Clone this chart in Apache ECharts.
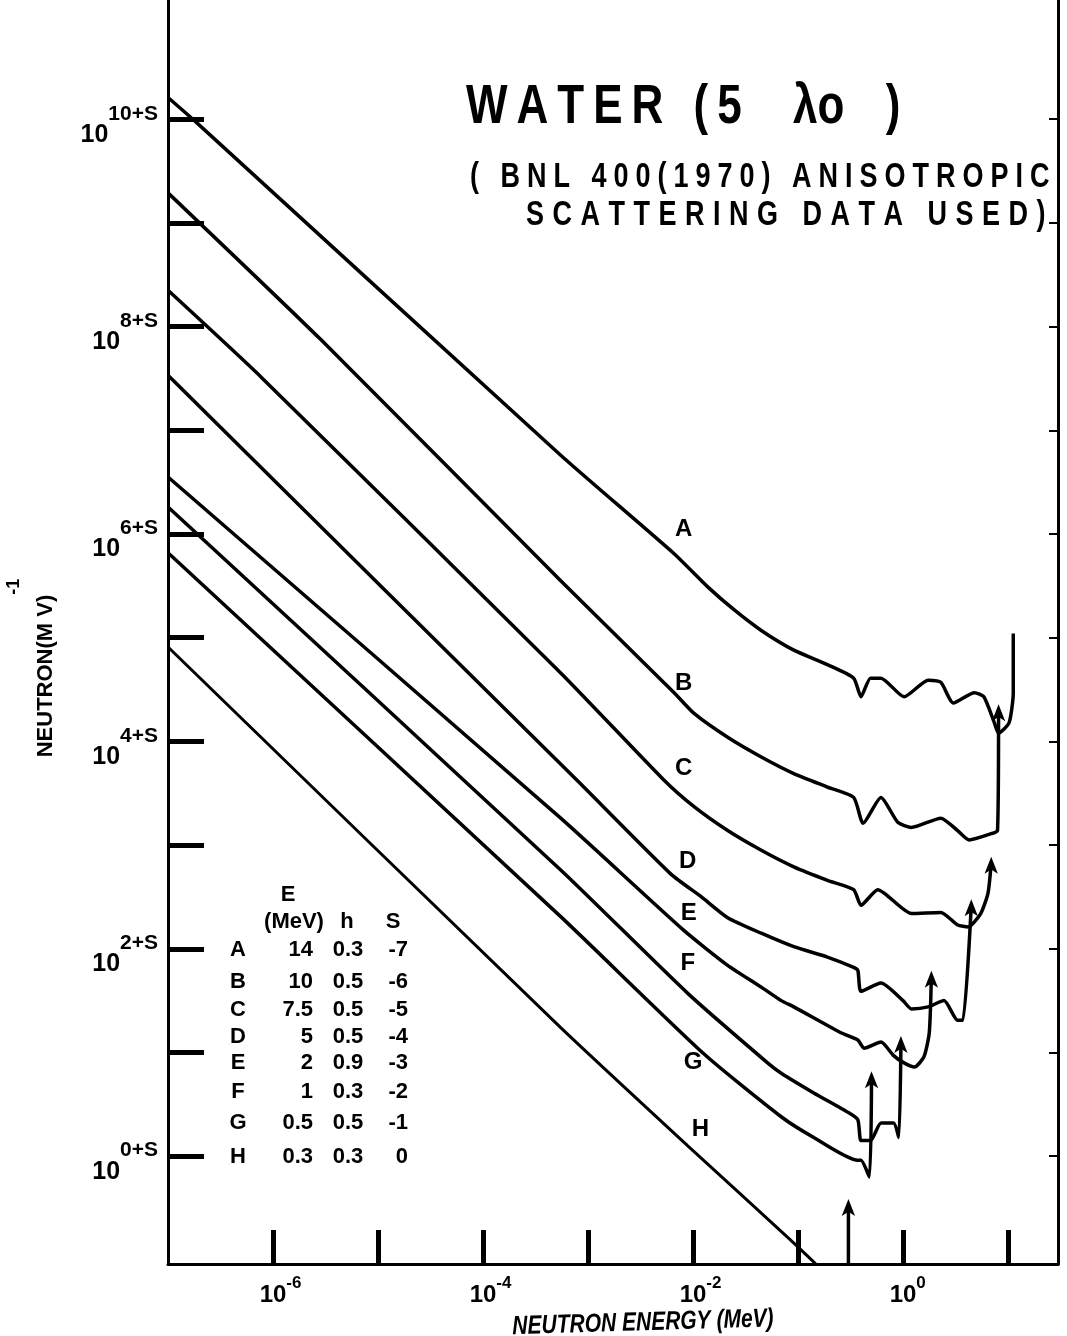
<!DOCTYPE html>
<html>
<head>
<meta charset="utf-8">
<script src="https://cdn.jsdelivr.net/npm/echarts@6/dist/echarts.min.js"></script>
<style>
html,body{margin:0;padding:0;background:#fff;}
#chart{width:1067px;height:1336px;}
</style>
</head>
<body>
<div id="chart"></div>
<script>
// Each point: [log10(neutron energy / MeV), log10(flux) with the curve's 10^S shift]
const curveA = [[-7,10.21],[-6.73,9.97],[-3.26,6.76],[-2.18,5.81],[-1.86,5.49],[-1.61,5.27],[-1.35,5.07],[-1.04,4.88],[-0.72,4.74],[-0.47,4.61],[-0.40,4.43],[-0.31,4.61],[-0.21,4.61],[0.01,4.43],[0.24,4.59],[0.36,4.57],[0.48,4.37],[0.68,4.47],[0.77,4.43],[0.87,4.18],[0.91,4.08],[1.01,4.18],[1.05,4.47],[1.05,5.04]];
const curveB = [[-7,9.29],[-5.54,7.87],[-3.26,5.55],[-2.18,4.47],[-1.99,4.27],[-1.67,4.04],[-1.35,3.85],[-1.04,3.69],[-0.72,3.56],[-0.47,3.46],[-0.38,3.21],[-0.21,3.46],[-0.05,3.22],[0.08,3.17],[0.36,3.26],[0.52,3.14],[0.63,3.05],[0.84,3.11],[0.90,3.14],[0.91,4.30]];
const curveC = [[-7,8.35],[-6.11,7.51],[-3.26,4.66],[-2.28,3.63],[-1.99,3.37],[-1.67,3.14],[-1.35,2.95],[-1.04,2.79],[-0.72,2.66],[-0.47,2.57],[-0.40,2.42],[-0.24,2.57],[0.08,2.34],[0.36,2.35],[0.52,2.23],[0.62,2.21],[0.74,2.34],[0.81,2.54],[0.84,2.83]];
const curveD = [[-7,7.53],[-3.10,3.62],[-2.21,2.72],[-1.92,2.50],[-1.67,2.30],[-1.35,2.15],[-1.04,2.02],[-0.72,1.92],[-0.47,1.82],[-0.43,1.79],[-0.40,1.59],[-0.21,1.67],[0.00,1.50],[0.08,1.42],[0.24,1.44],[0.39,1.50],[0.52,1.31],[0.57,1.31],[0.65,2.42]];
const curveE = [[-7,6.55],[-3.26,3.26],[-2.09,2.18],[-1.67,1.84],[-1.35,1.63],[-1.16,1.50],[-1.04,1.44],[-0.59,1.19],[-0.43,1.12],[-0.37,1.04],[-0.21,1.10],[-0.09,0.97],[0.01,0.90],[0.11,0.86],[0.20,0.96],[0.25,1.19],[0.27,1.73]];
const curveF = [[-7,6.26],[-3.26,2.76],[-2.05,1.57],[-1.29,0.90],[-1.16,0.80],[-0.85,0.61],[-0.52,0.42],[-0.43,0.35],[-0.40,0.15],[-0.31,0.15],[-0.21,0.32],[-0.09,0.32],[-0.04,0.18],[-0.02,1.10]];
const curveG = [[-7,5.82],[-3.26,2.31],[-1.90,0.99],[-1.16,0.38],[-0.85,0.18],[-0.43,-0.04],[-0.40,-0.04],[-0.32,-0.20],[-0.30,0.76]];
const curveH = [[-7,4.91],[-3.26,1.24],[-2.05,0.10],[-1.07,-0.81],[-0.83,-1.04]];
const markerArrowH = [[-0.52,-1.04],[-0.52,-0.47]];

const curveNames = ['A','B','C','D','E','F','G','H'];
const curveData = [curveA, curveB, curveC, curveD, curveE, curveF, curveG, curveH];
const curveHasArrow = [false, true, true, true, true, true, true, false];
const curveLabelPos = [[-2.09,6.04],[-2.09,4.56],[-2.09,3.74],[-2.05,2.84],[-2.04,2.34],[-2.05,1.86],[-2.00,0.90],[-1.93,0.26]];

const xTickValues = [-6,-5,-4,-3,-2,-1,0,1];
const xLabelValues = [-6,-4,-2,0];
const yTickValues = [0,1,2,3,4,5,6,7,8,9,10];
const yLabelValues = [0,2,4,6,8,10];

const tableLetters = ['A','B','C','D','E','F','G','H'];
const tableEnergy = ['14','10','7.5','5','2','1','0.5','0.3'];
const tableH = ['0.3','0.5','0.5','0.5','0.9','0.3','0.5','0.3'];
const tableS = ['-7','-6','-5','-4','-3','-2','-1','0'];

const FONT = '"Liberation Sans", Arial, sans-serif';
const INK = '#000';

function spaced(text, key) {
  return text.split('').map(ch => ch === ' ' ? '{' + key + 'w| }' : '{' + key + '|' + ch + '}').join('');
}

const chart = echarts.init(document.getElementById('chart'), null, {renderer: 'canvas'});

const series = curveData.map((pts, k) => ({
  type: 'line',
  name: curveNames[k],
  data: pts.map((p, i) => (curveHasArrow[k] && i === pts.length - 1)
    ? {value: p, symbol: 'arrow', symbolSize: [10, 17], symbolOffset: [0, -6]}
    : {value: p}),
  showSymbol: true,
  symbol: 'none',
  smooth: 0.2,
  lineStyle: {color: INK, width: k === 7 ? 3 : 3.5},
  itemStyle: {color: INK},
  z: 3,
  silent: true
}));

series.push({
  type: 'line',
  name: 'H marker',
  data: markerArrowH.map((p, i) => i === 1 ? {value: p, symbol: 'arrow', symbolSize: [10, 17], symbolOffset: [0, -6]} : {value: p}),
  showSymbol: true,
  symbol: 'none',
  lineStyle: {color: INK, width: 3.5},
  itemStyle: {color: INK},
  z: 3,
  silent: true
});

series.push({
  type: 'scatter',
  name: 'curve labels',
  data: curveLabelPos.map((p, i) => ({name: curveNames[i], value: p})),
  symbolSize: 1,
  itemStyle: {color: 'rgba(0,0,0,0)', opacity: 1},
  label: {show: true, position: 'inside', formatter: d => d.name, fontFamily: FONT, fontWeight: 'bold', fontSize: 24, color: INK, opacity: 1},
  z: 4,
  silent: true
});

const yRich = {
  b: {fontFamily: FONT, fontWeight: 'bold', fontSize: 25, lineHeight: 25, color: INK, padding: [19, 0, 0, 0]},
  s: {fontFamily: FONT, fontWeight: 'bold', fontSize: 21, lineHeight: 21, color: INK, padding: [0, 0, 23, 0]}
};
const xRich = {
  p: {fontFamily: FONT, fontWeight: 'bold', fontSize: 17, lineHeight: 17, color: 'rgba(0,0,0,0)', padding: [0, 0, 15, 0]},
  b: {fontFamily: FONT, fontWeight: 'bold', fontSize: 24, lineHeight: 24, color: INK, padding: [8, 0, 0, 0]},
  s: {fontFamily: FONT, fontWeight: 'bold', fontSize: 17, lineHeight: 17, color: INK, padding: [0, 0, 15, 0]}
};

const tTitle = {fontFamily: FONT, fontWeight: 'bold', fontSize: 44, color: INK, padding: [0, 9, 0, 0]};
const tLam = {fontFamily: FONT, fontWeight: 'bold', fontSize: 44, color: INK, padding: [0, 20, 0, 0]};
const tSub = {fontFamily: FONT, fontWeight: 'bold', fontSize: 27, color: INK, padding: [0, 7, 0, 0]};
const tSub2 = {fontFamily: FONT, fontWeight: 'bold', fontSize: 27, color: INK, padding: [0, 8.5, 0, 0]};

const graphics = [
  {type: 'text', left: 466, top: 80, scaleY: 1.25,
   style: {text: spaced('WATER (5  ', 't') + '{n|λo}' + spaced(' )', 't'), rich: {t: tTitle, tw: tTitle, n: tLam}}},
  {type: 'text', left: 470, top: 160, scaleY: 1.3,
   style: {text: spaced('( BNL 400(1970) ANISOTROPIC', 't'), rich: {t: tSub, tw: tSub}}},
  {type: 'text', left: 526, top: 198, scaleY: 1.3,
   style: {text: spaced('SCATTERING DATA USED)', 't'), rich: {t: tSub2, tw: tSub2}}},
  {type: 'text', x: 31, y: 668, rotation: Math.PI / 2,
   style: {text: '{n|NEUTRON(M V)}{s|-1}', align: 'center', verticalAlign: 'middle',
     rich: {n: {fontFamily: FONT, fontWeight: 'bold', fontSize: 22, lineHeight: 22, color: INK, padding: [30, 0, 0, 0]},
            s: {fontFamily: FONT, fontWeight: 'bold', fontSize: 18, lineHeight: 18, color: INK, padding: [0, 0, 34, 0]}}}},
  {type: 'text', x: 643, y: 1323, rotation: 0.03, scaleY: 1.25,
   style: {text: 'NEUTRON ENERGY (MeV)', align: 'center', verticalAlign: 'middle',
     font: 'italic bold 21px ' + FONT, fill: INK}}
];

// legend table
const tStyle = {fontFamily: FONT, fontWeight: 'bold', fontSize: 22, fill: INK, verticalAlign: 'middle'};
graphics.push({type: 'text', x: 288, y: 895, style: Object.assign({}, tStyle, {text: 'E', align: 'center'})});
graphics.push({type: 'text', x: 294, y: 922, style: Object.assign({}, tStyle, {text: '(MeV)', align: 'center'})});
graphics.push({type: 'text', x: 347, y: 922, style: Object.assign({}, tStyle, {text: 'h', align: 'center'})});
graphics.push({type: 'text', x: 393, y: 922, style: Object.assign({}, tStyle, {text: 'S', align: 'center'})});
const rowY = [950, 982, 1010, 1037, 1063, 1092, 1123, 1157];
tableLetters.forEach((L, i) => {
  graphics.push({type: 'text', x: 238, y: rowY[i], style: Object.assign({}, tStyle, {text: L, align: 'center'})});
  graphics.push({type: 'text', x: 313, y: rowY[i], style: Object.assign({}, tStyle, {text: tableEnergy[i], align: 'right'})});
  graphics.push({type: 'text', x: 348, y: rowY[i], style: Object.assign({}, tStyle, {text: tableH[i], align: 'center'})});
  graphics.push({type: 'text', x: 408, y: rowY[i], style: Object.assign({}, tStyle, {text: tableS[i], align: 'right'})});
});

const option = {
  animation: false,
  backgroundColor: '#fff',
  grid: {left: 168, right: 9, top: 0, bottom: 72, show: false},
  xAxis: {
    type: 'value', min: -7, max: 1.476,
    splitLine: {show: false},
    axisLine: {show: true, onZero: false, lineStyle: {color: INK, width: 3}},
    axisTick: {show: true, inside: true, length: 34, lineStyle: {color: INK, width: 5}, customValues: xTickValues},
    axisLabel: {
      customValues: xLabelValues, margin: 15, verticalAlign: 'top',
      formatter: v => { const e = String(v); return '{p|' + e + '}{b|10}{s|' + e + '}'; },
      rich: xRich
    }
  },
  yAxis: [
    {
      type: 'value', min: -1.04, max: 11.15, position: 'left',
      splitLine: {show: false},
      axisLine: {show: true, onZero: false, lineStyle: {color: INK, width: 3}},
      axisTick: {show: true, inside: true, length: 36, lineStyle: {color: INK, width: 5}, customValues: yTickValues},
      axisLabel: {
        customValues: yLabelValues, margin: 10, padding: [12, 0, 0, 0],
        formatter: v => '{b|10}{s|' + v + '+S}',
        rich: yRich
      }
    },
    {
      type: 'value', min: -1.04, max: 11.15, position: 'right',
      splitLine: {show: false},
      axisLine: {show: true, onZero: false, lineStyle: {color: INK, width: 3}},
      axisTick: {show: true, inside: true, length: 9, lineStyle: {color: INK, width: 2}, customValues: yTickValues},
      axisLabel: {show: false}
    }
  ],
  series: series,
  graphic: graphics
};

chart.setOption(option);
</script>
</body>
</html>
